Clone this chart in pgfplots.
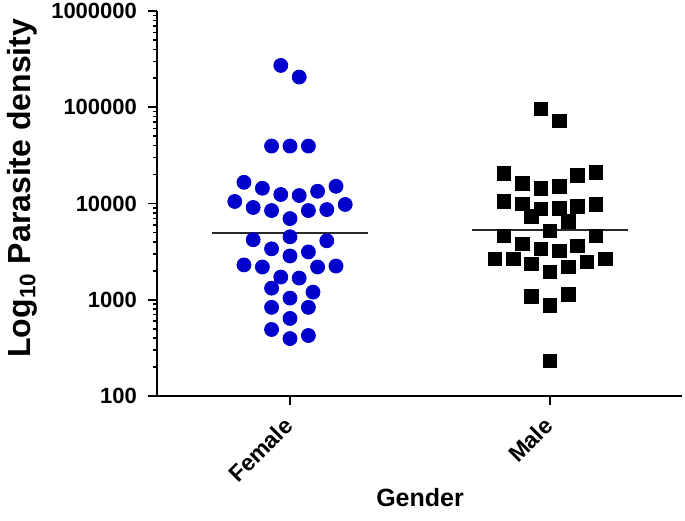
\documentclass[border=0pt]{standalone}
\usepackage{pgfplots}
\pgfplotsset{compat=1.18}
\usepackage{pgfplotstable}
\usepackage{fontspec}
\setmainfont{Liberation Sans}
\definecolor{dotblue}{RGB}{0,0,204}
\definecolor{meanline}{RGB}{40,40,40}

\pgfplotstableread{
k value
-1 272000
1 206000
-2 39500
0 39500
2 39500
-5 16600
-3 14400
-1 12400
1 12100
3 13400
5 15100
-6 10500
-4 9090
-2 8450
0 6970
2 8450
4 8650
6 9770
-4 4200
0 4510
4 4100
-2 3380
0 2850
2 3140
-5 2300
-3 2190
3 2190
5 2240
-1 1720
1 1680
-2 1320
0 1040
2.5 1200
-2 834
2 834
0 640
-2 491
0 395
2 425
}\female

\pgfplotstableread{
k value
-1 96400
1 72300
-5 20600
-3 16200
-1 14400
1 15100
3 19600
5 21100
-5 10500
-3 9890
-1 8750
1 8870
3 9310
5 9770
-2 7310
2 6480
-5 4620
0 5210
5 4620
-3 3810
-1 3380
1 3220
3 3630
-6 2650
-4 2650
-2 2350
0 1940
2 2190
4 2470
6 2650
-2 1090
0 875
2 1140
0 232
}\male

\begin{document}
\begin{tikzpicture}
\begin{axis}[
  at={(0,0)}, anchor=south west,
  scale only axis,
  width=262.5pt, height=192.5pt,
  ymode=log,
  ymin=100, ymax=1000000,
  xmin=-0.5115, xmax=1.5077,
  axis x line*=bottom,
  axis y line*=left,
  axis line style={line width=1pt},
  every tick/.style={black, line width=0.8pt},
  tick align=outside,
  major tick length=4.5pt,
  minor tick length=2pt,
  xtick={0,1},
  xticklabels={Female,Male},
  x tick label style={font=\fontsize{11.5}{13}\selectfont\bfseries, anchor=north east, inner sep=1pt, xshift=-3.8pt, yshift=-3.8pt, rotate=45},
  ytick={100,1000,10000,100000,1000000},
  yticklabels={100,1000,10000,100000,1000000},
  y tick label style={font=\fontsize{11}{13}\selectfont\bfseries, xshift=-2pt},
  /pgf/number format/assume math mode=true,
  xlabel={Gender},
  ylabel={Log\textsubscript{10} Parasite density},
  xlabel style={font=\fontsize{12.5}{14}\selectfont\bfseries, at={(axis description cs:0.501,-0.288)}, anchor=base},
  ylabel style={font=\fontsize{16}{18}\selectfont\bfseries, at={(axis description cs:-0.257,0.54)}, anchor=center},
  clip=false,
]
\addplot[only marks, mark=*, mark size=3.5pt, mark options={draw=dotblue, fill=dotblue}]
  table[x expr={\thisrow{k}*0.0354}, y=value] {\female};
\addplot[only marks, mark=square*, mark size=3.4pt, mark options={draw=black, fill=black}]
  table[x expr={1+\thisrow{k}*0.0354}, y=value] {\male};
\addplot[meanline, line width=1pt] coordinates {(-0.30,4900) (0.30,4900)};
\addplot[meanline, line width=1pt] coordinates {(0.70,5300) (1.30,5300)};
\end{axis}
\pgfresetboundingbox
\path[use as bounding box] (-78.5pt,-62pt) rectangle (264pt,198pt);
\end{tikzpicture}
\end{document}
